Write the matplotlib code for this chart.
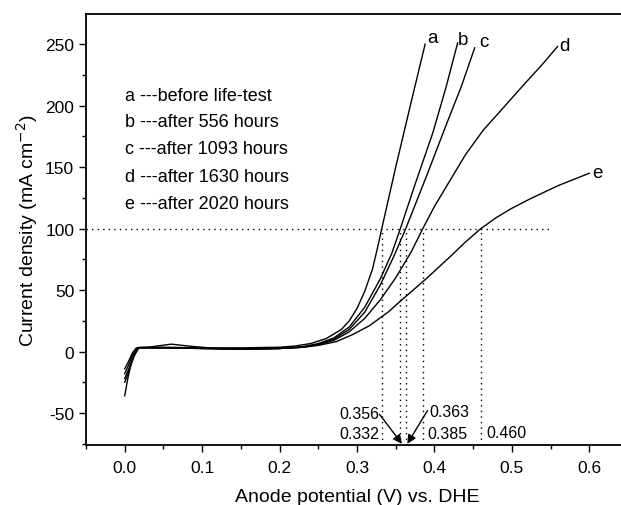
import matplotlib.pyplot as plt
from matplotlib.ticker import MultipleLocator

plt.rcParams['font.family'] = ['Liberation Sans', 'DejaVu Sans']
plt.rcParams['axes.unicode_minus'] = False

# curves (potential in V vs DHE, current in mA cm-2)
x_a = [0, 0.005, 0.01, 0.015, 0.02, 0.05, 0.1, 0.15, 0.2, 0.22, 0.24, 0.26, 0.28,
       0.29, 0.30, 0.31, 0.32, 0.326, 0.332, 0.35, 0.37, 0.388]
y_a = [-14, -8, -1, 3, 3.5, 3.5, 3, 3, 3.5, 4.5, 6.5, 10.5, 18,
       25, 35, 49, 67, 83, 100, 150, 203, 250]

x_b = [0, 0.005, 0.01, 0.016, 0.03, 0.06, 0.09, 0.12, 0.16, 0.2, 0.23, 0.25, 0.27,
       0.29, 0.31, 0.33, 0.345, 0.356, 0.375, 0.398, 0.415, 0.43]
y_b = [-18, -11, -3, 3, 3.5, 6, 4, 2.5, 2, 2.5, 4, 6.5, 11,
       20, 36, 59, 80, 100, 136, 178, 215, 251]

x_c = [0, 0.006, 0.012, 0.018, 0.05, 0.1, 0.15, 0.2, 0.23, 0.25, 0.27, 0.29, 0.31,
       0.33, 0.348, 0.363, 0.39, 0.415, 0.435, 0.452]
y_c = [-22, -13, -3, 3, 3, 2.5, 2, 2.5, 3.5, 6, 10, 18, 32,
       54, 78, 100, 143, 184, 216, 247]

x_d = [0, 0.006, 0.012, 0.018, 0.05, 0.1, 0.15, 0.2, 0.23, 0.25, 0.27, 0.29, 0.31,
       0.33, 0.35, 0.37, 0.385, 0.40, 0.42, 0.44, 0.463, 0.49, 0.514, 0.54, 0.559]
y_d = [-25, -15, -4, 3, 3, 2.5, 2, 2.5, 3.5, 5.5, 9, 16, 27,
       42, 60, 81, 100, 118, 139, 160, 180, 199, 216, 234, 248]

x_e = [0, 0.004, 0.008, 0.013, 0.018, 0.05, 0.1, 0.15, 0.2, 0.23, 0.25, 0.273, 0.295,
       0.316, 0.34, 0.359, 0.389, 0.42, 0.44, 0.46, 0.48, 0.50, 0.523, 0.56, 0.60]
y_e = [-36, -22, -10, -1, 3, 3, 2.5, 2, 2.5, 3.5, 5, 8, 14,
       21, 32, 42.6, 59, 77, 89, 100, 109, 116.5, 124, 135, 145]

curve_labels = ['a', 'b', 'c', 'd', 'e']
label_x = [0.397, 0.437, 0.464, 0.568, 0.611]
label_y = [255, 254, 252, 249, 146]

legend_lines = ['a ---before life-test', 'b ---after 556 hours', 'c ---after 1093 hours',
                'd ---after 1630 hours', 'e ---after 2020 hours']
legend_y = [208, 187, 165, 142, 120]

# potentials at 100 mA cm-2
v100 = [0.332, 0.356, 0.363, 0.385, 0.460]
ref_current = 100

fig = plt.figure(figsize=(6.21, 5.06), dpi=100)
# axes run past the right edge of the image, like the cropped original
ax = fig.add_axes([86 / 621, 60 / 506, 542 / 621, 431 / 506])

for xs, ys in [(x_a, y_a), (x_b, y_b), (x_c, y_c), (x_d, y_d), (x_e, y_e)]:
    ax.plot(xs, ys, color='black', lw=1.0)

for lab, lx, ly in zip(curve_labels, label_x, label_y):
    ax.text(lx, ly, lab, fontsize=13.5, ha='center', va='center')

for t, ly in zip(legend_lines, legend_y):
    ax.text(0.0, ly, t, fontsize=13, ha='left', va='center')

ymin = -76
ax.plot([-0.05, 0.55], [ref_current, ref_current], color='black', lw=1, ls=(0, (1, 3)))
for v in v100:
    ax.plot([v, v], [ymin, ref_current], color='black', lw=1, ls=(0, (1, 3)))

# value annotations
ax.text(0.329, -50.5, '0.356', fontsize=11.5, ha='right', va='center')
ax.text(0.329, -67, '0.332', fontsize=11.5, ha='right', va='center')
ax.text(0.394, -49, '0.363', fontsize=11.5, ha='left', va='center')
ax.text(0.391, -67, '0.385', fontsize=11.5, ha='left', va='center')
ax.text(0.467, -65.5, '0.460', fontsize=11.5, ha='left', va='center')
ax.annotate('', xy=(0.358, -75), xytext=(0.329, -51),
            arrowprops=dict(arrowstyle='-|>', color='black', lw=1, mutation_scale=13, shrinkA=0, shrinkB=0))
ax.annotate('', xy=(0.365, -75), xytext=(0.391, -48),
            arrowprops=dict(arrowstyle='-|>', color='black', lw=1, mutation_scale=13, shrinkA=0, shrinkB=0))

ax.set_xlim(-0.05, 0.65)
ax.set_ylim(ymin, 274.5)
ax.xaxis.set_major_locator(MultipleLocator(0.1))
ax.xaxis.set_minor_locator(MultipleLocator(0.05))
ax.yaxis.set_major_locator(MultipleLocator(50))
ax.yaxis.set_minor_locator(MultipleLocator(25))
ax.tick_params(which='major', direction='out', length=5, width=1, labelsize=12.5, top=False, right=False)
ax.tick_params(axis='x', which='major', pad=6)
ax.tick_params(which='minor', direction='out', length=3, width=1, top=False, right=False)
ax.set_xticks([0, 0.1, 0.2, 0.3, 0.4, 0.5, 0.6])
ax.set_xticklabels(['0.0', '0.1', '0.2', '0.3', '0.4', '0.5', '0.6'])
for sp in ax.spines.values():
    sp.set_linewidth(1.3)

ax.set_xlabel('Anode potential (V) vs. DHE', fontsize=14, labelpad=9)
ax.set_ylabel('Current density (mA cm$^{-2}$)', fontsize=14, labelpad=4)

fig.savefig('out.png', dpi=100)
